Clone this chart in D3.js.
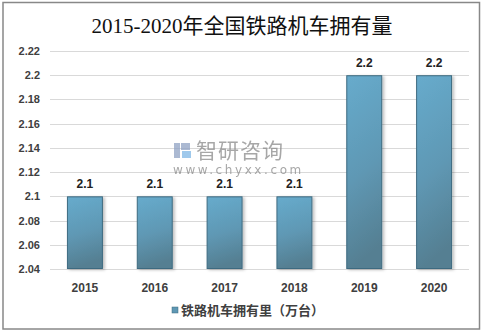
<!DOCTYPE html>
<html>
<head>
<meta charset="utf-8">
<script src="https://cdn.jsdelivr.net/npm/d3@7/dist/d3.min.js"></script>
<style>
  html, body { margin: 0; padding: 0; background: #fff; }
  svg { display: block; }
</style>
</head>
<body>
<svg id="chart" width="483" height="332"></svg>
<script>
// Locomotive stock by year (万台)
const years = ["2015", "2016", "2017", "2018", "2019", "2020"];
const stock = [2.1, 2.1, 2.1, 2.1, 2.2, 2.2];
const yTicks = [2.04, 2.06, 2.08, 2.1, 2.12, 2.14, 2.16, 2.18, 2.2, 2.22];
const yTickLabels = ["2.04", "2.06", "2.08", "2.1", "2.12", "2.14", "2.16", "2.18", "2.2", "2.22"];
const titleText = "2015-2020年全国铁路机车拥有量";
const seriesName = "铁路机车拥有里（万台）";

const svg = d3.select("#chart");
const plot = { left: 50, right: 469, top: 51, bottom: 269 };

// Outer frame
svg.append("rect")
  .attr("x", 3).attr("y", 2.5).attr("width", 476.5).attr("height", 326.5)
  .attr("fill", "#fff").attr("stroke", "#888").attr("stroke-width", 1.5);

const defs = svg.append("defs");
const grad = defs.append("linearGradient")
  .attr("id", "barFill").attr("x1", 0).attr("y1", 0).attr("x2", 0.15).attr("y2", 1);
grad.append("stop").attr("offset", "0%").attr("stop-color", "#67abcc");
grad.append("stop").attr("offset", "55%").attr("stop-color", "#5f98b4");
grad.append("stop").attr("offset", "100%").attr("stop-color", "#557f92");

const shadow = defs.append("filter").attr("id", "barShadow")
  .attr("x", "-20%").attr("y", "-10%").attr("width", "150%").attr("height", "130%");
shadow.append("feDropShadow").attr("dx", 2).attr("dy", 1).attr("stdDeviation", 1.5)
  .attr("flood-color", "#000").attr("flood-opacity", 0.25);

const x = d3.scaleBand().domain(years).range([plot.left, plot.right]).paddingInner(0.485).paddingOuter(0.2425);
const y = d3.scaleLinear().domain([2.04, 2.22]).range([plot.bottom, plot.top]);

// Title
svg.append("text")
  .attr("x", 242).attr("y", 33)
  .attr("text-anchor", "middle")
  .attr("font-family", "'Liberation Serif', 'Noto Sans CJK SC', serif")
  .attr("font-size", 21)
  .attr("fill", "#111")
  .text(titleText);

// Gridlines
svg.append("g")
  .selectAll("line")
  .data(yTicks)
  .join("line")
  .attr("x1", plot.left).attr("x2", plot.right)
  .attr("y1", d => Math.round(y(d)) + 0.5).attr("y2", d => Math.round(y(d)) + 0.5)
  .attr("stroke", "#d9d9d9").attr("stroke-width", 1);

// Y axis labels
const yAxis = d3.axisLeft(y)
  .tickValues(yTicks)
  .tickFormat((d, i) => yTickLabels[i])
  .tickSize(0).tickPadding(10);
const gy = svg.append("g").attr("transform", `translate(${plot.left},0)`).call(yAxis);
gy.select(".domain").remove();
gy.selectAll("text")
  .attr("font-family", "'Liberation Sans', Arial, sans-serif")
  .attr("font-size", 11).attr("font-weight", "bold").attr("fill", "#404040");

// Watermark
const wm = svg.append("g").attr("opacity", 0.75);
wm.append("rect").attr("x", 174).attr("y", 143).attr("width", 6).attr("height", 15).attr("fill", "#8fa2c4");
wm.append("rect").attr("x", 181).attr("y", 143).attr("width", 9).attr("height", 7).attr("fill", "#8fa2c4");
wm.append("rect").attr("x", 182).attr("y", 151).attr("width", 9).attr("height", 7).attr("fill", "#7fb8e6");
wm.append("text").attr("x", 196).attr("y", 158)
  .attr("font-family", "'Noto Sans CJK SC', sans-serif").attr("font-size", 21)
  .attr("fill", "#8a8a8a").attr("letter-spacing", 1).text("智研咨询");
wm.append("text").attr("x", 173).attr("y", 174)
  .attr("font-family", "'DejaVu Sans', sans-serif").attr("font-size", 12)
  .attr("fill", "#8a8a8a").attr("letter-spacing", 2.6).text("www.chyxx.com");

// Bars
svg.append("g")
  .selectAll("rect")
  .data(years)
  .join("rect")
  .attr("x", d => x(d) + 0.5)
  .attr("y", (d, i) => y(stock[i]) + 0.5)
  .attr("width", x.bandwidth() - 1)
  .attr("height", (d, i) => y(2.04) - y(stock[i]) - 1)
  .attr("fill", "url(#barFill)")
  .attr("stroke", "#3e6b80").attr("stroke-width", 1)
  .attr("filter", "url(#barShadow)");

// Value labels
svg.append("g")
  .selectAll("text")
  .data(years)
  .join("text")
  .attr("x", d => x(d) + x.bandwidth() / 2)
  .attr("y", (d, i) => y(stock[i]) - 8)
  .attr("text-anchor", "middle")
  .attr("font-family", "'Liberation Sans', Arial, sans-serif")
  .attr("font-size", 12).attr("font-weight", "bold").attr("fill", "#222")
  .text((d, i) => stock[i]);

// X axis labels
const xAxis = d3.axisBottom(x).tickSize(0).tickPadding(14);
const gx = svg.append("g").attr("transform", `translate(0,${plot.bottom})`).call(xAxis);
gx.select(".domain").remove();
gx.selectAll("text")
  .attr("font-family", "'Liberation Sans', Arial, sans-serif")
  .attr("font-size", 12).attr("font-weight", "bold").attr("fill", "#404040");

// Legend
const legend = svg.append("g").attr("transform", "translate(172,313)");
legend.append("rect").attr("x", 0).attr("y", -6).attr("width", 6).attr("height", 6)
  .attr("fill", "#5f98b4").attr("stroke", "#3e6b80").attr("stroke-width", 0.5);
legend.append("text").attr("x", 9).attr("y", 0)
  .attr("dominant-baseline", "middle")
  .attr("dy", "-0.15em")
  .attr("font-family", "'Noto Sans CJK SC', sans-serif")
  .attr("font-size", 13).attr("font-weight", "bold").attr("fill", "#404040")
  .text(seriesName);
</script>
</body>
</html>
